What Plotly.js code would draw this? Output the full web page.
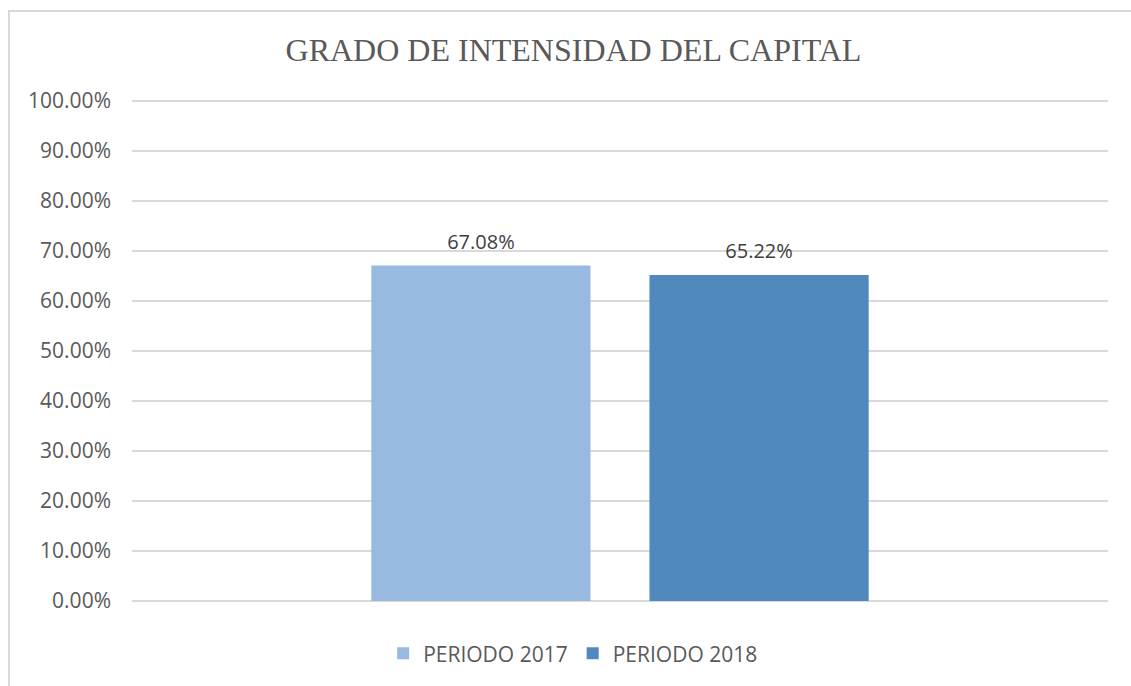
<!DOCTYPE html>
<html>
<head>
<meta charset="utf-8">
<script src="https://cdn.plot.ly/plotly-3.0.1.min.js"></script>
<style>
  html, body { margin:0; padding:0; background:#fff; }
  #wrap { position:relative; width:1131px; height:686px; overflow:hidden; }
  #chart { position:absolute; left:0; top:0; width:1131px; height:686px; }
  #frame { position:absolute; left:8px; top:10px; width:1200px; height:800px;
           border-top:2px solid #d9d9d9; border-left:2px solid #d9d9d9; pointer-events:none; }
</style>
</head>
<body>
<div id="wrap">
  <div id="chart"></div>
  <div id="frame"></div>
</div>
<script>
const categories = ["GRADO DE INTENSIDAD DEL CAPITAL"];
const seriesNames = ["PERIODO 2017", "PERIODO 2018"];
const values2017 = [0.6708];
const values2018 = [0.6522];
const seriesColors = ["#98B9E0", "#4F89BD"];
const yTickVals = [0, 0.1, 0.2, 0.3, 0.4, 0.5, 0.6, 0.7, 0.8, 0.9, 1.0];

const labelFont = {family: "Open Sans, sans-serif", size: 20, color: "#404040"};
const seriesValues = [values2017, values2018];

const barTraces = seriesValues.map((vals, i) => ({
  type: "bar",
  name: seriesNames[i],
  x: categories,
  y: vals,
  offsetgroup: "g" + i,
  marker: {color: seriesColors[i]},
  hoverinfo: "none"
}));

const labelTraces = seriesValues.map((vals, i) => ({
  type: "scatter",
  mode: "markers+text",
  x: categories,
  y: vals,
  offsetgroup: "g" + i,
  text: vals.map(v => (v * 100).toFixed(2) + "%"),
  textposition: "top center",
  textfont: labelFont,
  marker: {size: 17, opacity: 0, color: seriesColors[i]},
  showlegend: false,
  cliponaxis: false,
  hoverinfo: "none"
}));

const layout = {
  width: 1131,
  height: 686,
  paper_bgcolor: "rgba(0,0,0,0)",
  plot_bgcolor: "rgba(0,0,0,0)",
  margin: {l: 132, r: 23, t: 99, b: 82},
  title: {
    text: "GRADO DE INTENSIDAD DEL CAPITAL",
    font: {family: "Liberation Serif, Times New Roman, serif", size: 32, color: "#595959"},
    x: 0.507, xanchor: "center", xref: "container",
    y: 0.927, yanchor: "middle", yref: "container"
  },
  barmode: "group",
  bargap: 0.43,
  bargroupgap: 0.212,
  scattermode: "group",
  scattergap: 0.43,
  xaxis: {
    showticklabels: false,
    showgrid: false,
    zeroline: false,
    showline: false,
    ticks: ""
  },
  yaxis: {
    range: [0, 1.004],
    tickvals: yTickVals,
    tickformat: ".2%",
    showgrid: true,
    gridcolor: "#d9d9d9",
    gridwidth: 1.5,
    zeroline: true,
    zerolinecolor: "#d9d9d9",
    zerolinewidth: 1.5,
    showline: false,
    ticks: "",
    ticklabelstandoff: 20,
    tickfont: {family: "Open Sans, sans-serif", size: 21, color: "#595959"}
  },
  showlegend: true,
  legend: {
    orientation: "h",
    x: 0.452, xanchor: "center",
    y: -0.105, yanchor: "middle",
    font: {family: "Open Sans, sans-serif", size: 21, color: "#595959"},
    itemwidth: 30,
    tracegroupgap: 0
  }
};

Plotly.newPlot("chart", barTraces.concat(labelTraces), layout, {staticPlot: true});
</script>
</body>
</html>
